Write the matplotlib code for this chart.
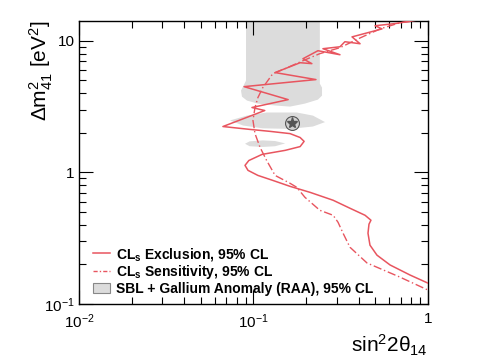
import numpy as np
import matplotlib
matplotlib.use("Agg")
import matplotlib.pyplot as plt
from matplotlib.patches import Patch
from matplotlib.lines import Line2D

plt.rcParams["font.family"] = ["Liberation Sans", "DejaVu Sans"]
plt.rcParams["mathtext.fontset"] = "custom"
plt.rcParams["mathtext.rm"] = "Liberation Sans"
plt.rcParams["mathtext.it"] = "Liberation Sans"
plt.rcParams["mathtext.bf"] = "Liberation Sans:bold"

# CLs exclusion contour (sin^2 2theta14, dm2_41)
excl_x = [0.877, 0.647, 0.497, 0.545, 0.367, 0.408, 0.334, 0.313, 0.25, 0.313,
          0.234, 0.192, 0.216, 0.185, 0.133, 0.228, 0.0883, 0.158, 0.098, 0.116,
          0.0668, 0.0955, 0.124, 0.162, 0.185, 0.195, 0.185, 0.152, 0.112, 0.094,
          0.0894, 0.093, 0.106, 0.129, 0.162, 0.211, 0.286, 0.357, 0.436, 0.471,
          0.459, 0.453, 0.465, 0.510, 0.606, 0.789, 1.0]
excl_y = [14.4, 13.5, 13.0, 12.3, 10.7, 9.49, 9.83, 9.0, 8.7, 7.83,
          8.4, 7.3, 6.7, 6.81, 5.73, 5.07, 4.48, 3.57, 3.11, 2.95,
          2.23, 2.12, 2.05, 1.97, 1.84, 1.72, 1.57, 1.47, 1.37, 1.23,
          1.13, 1.036, 0.948, 0.869, 0.783, 0.705, 0.614, 0.534, 0.472, 0.433,
          0.404, 0.345, 0.280, 0.235, 0.198, 0.166, 0.144]

# CLs sensitivity contour
sens_x = [0.789, 0.691, 0.531, 0.408, 0.313, 0.240, 0.192, 0.156, 0.129, 0.113,
          0.106, 0.102, 0.0993, 0.102, 0.109, 0.119, 0.133, 0.162, 0.177, 0.197,
          0.240, 0.286, 0.305, 0.326, 0.357, 0.447, 0.691, 1.0]
sens_y = [14.0, 13.7, 12.3, 10.5, 8.86, 7.98, 7.05, 6.24, 5.62, 4.40,
          3.70, 3.11, 2.48, 1.97, 1.55, 1.23, 0.948, 0.826, 0.770, 0.647,
          0.515, 0.472, 0.418, 0.345, 0.270, 0.205, 0.160, 0.1276]

# SBL + Gallium anomaly allowed regions
raa1_x = [0.0906, 0.0906, 0.0871, 0.0848, 0.0859, 0.0918, 0.106, 0.133, 0.162,
          0.197, 0.234, 0.247, 0.247, 0.240, 0.240]
raa1_y = [15.0, 4.98, 4.48, 4.18, 3.76, 3.51, 3.33, 3.22, 3.16,
          3.33, 3.57, 3.83, 4.40, 4.72, 15.0]
raa2_x = [0.0733, 0.0918, 0.119, 0.177, 0.219, 0.257, 0.219, 0.162, 0.113, 0.0871]
raa2_y = [2.48, 2.70, 2.85, 2.85, 2.70, 2.41, 2.23, 2.14, 2.16, 2.27]
raa3_x = [0.0894, 0.095, 0.113, 0.133, 0.152, 0.133, 0.113, 0.095]
raa3_y = [1.65, 1.72, 1.75, 1.73, 1.66, 1.58, 1.56, 1.58]

best_fit = (0.166, 2.38)

red = "#e8555f"
gray = "#dcdcdc"

fig = plt.figure(figsize=(4.85, 3.6), dpi=100)
ax = fig.add_axes([79 / 485, 1 - 304 / 360, 349 / 485, 283.3 / 360])

for rx, ry in [(raa1_x, raa1_y), (raa2_x, raa2_y), (raa3_x, raa3_y)]:
    ax.fill(rx, ry, color=gray, lw=0, zorder=1)

ax.plot(sens_x, sens_y, color=red, lw=1.0, dashes=(6, 2, 1, 2), zorder=3)
ax.plot(excl_x, excl_y, color=red, lw=1.1, zorder=4)

ax.plot(*best_fit, marker="o", ms=10, mfc="#d0d0d0", mec="#555555", mew=0.8, zorder=5)
ax.plot(*best_fit, marker="*", ms=8, mfc="#555555", mec="#555555", zorder=6)

ax.set_xscale("log")
ax.set_yscale("log")
ax.set_xlim(0.01, 1)
ax.set_ylim(0.1, 14.2)

ax.set_xticks([0.01, 0.1, 1])
ax.set_xticklabels([r"$10^{-2}$", r"$10^{-1}$", "1"])
ax.set_yticks([0.1, 1, 10])
ax.set_yticklabels([r"$10^{-1}$", "1", "10"])
ax.tick_params(which="both", direction="in", top=True, right=True, labelsize=11)
ax.tick_params(which="major", length=10, width=0.8)
ax.tick_params(which="minor", length=5, width=0.8)
ax.tick_params(axis="x", pad=6)
ax.tick_params(axis="y", pad=3)
for s in ax.spines.values():
    s.set_linewidth(1.0)

ax.set_xlabel(r"sin$^{2}$2$\theta_{14}$", fontsize=15, loc="right", labelpad=1)
ax.set_ylabel(r"$\Delta$m$^{2}_{41}$ [eV$^{2}$]", fontsize=15, loc="top")
ax.yaxis.set_label_coords(-0.068, 1.0)

handles = [
    Line2D([], [], color=red, lw=1.1),
    Line2D([], [], color=red, lw=1.0, dashes=(3, 1.5, 1, 1.5)),
    Patch(facecolor=gray, edgecolor="#888888", lw=0.8),
]
labels = [
    r"CL$_{\mathbf{s}}$ Exclusion, 95% CL",
    r"CL$_{\mathbf{s}}$ Sensitivity, 95% CL",
    "SBL + Gallium Anomaly (RAA), 95% CL",
]
ax.legend(handles, labels, loc="lower left", bbox_to_anchor=(0.04, 0.03),
          frameon=False, borderaxespad=0, borderpad=0, handlelength=1.25,
          handleheight=0.75, handletextpad=0.4, labelspacing=0.02,
          prop={"weight": "bold", "size": 10})

fig.savefig("out.png", dpi=100)
